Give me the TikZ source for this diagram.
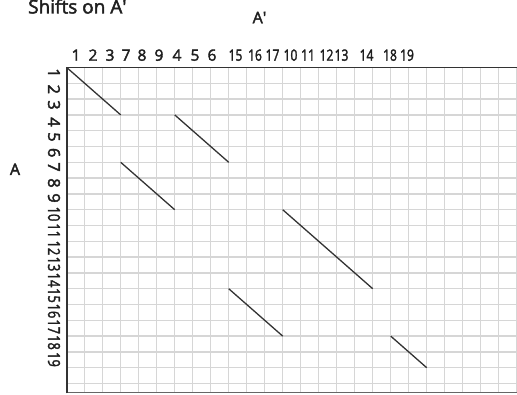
\documentclass[tikz,border=0pt]{standalone}
\usepackage{fontspec}
\setmainfont{Open Sans}
\newfontfamily\heavyfam{Open Sans}[FakeBold=2.4]
\newcommand\collblfont{\heavyfam\fontsize{15.5}{16}\selectfont}
\newcommand\rowlblfont{\heavyfam\fontsize{16.5}{17}\selectfont}
\newcommand\ttlfont{\heavyfam\fontsize{19}{20}\selectfont}
\newcommand\aprfont{\heavyfam\fontsize{16}{17}\selectfont}
\newcommand\nn[1]{\scalebox{0.78}[1]{#1}}
\begin{document}
\begin{tikzpicture}[x=1pt,y=-1pt,
  gridline/.style={draw=black!16,line width=1.5pt},
  borderline/.style={draw=black!80,line width=1.6pt},
  bottomline/.style={draw=black!60,line width=1.8pt},
  diag/.style={draw=black!80,line width=1.3pt},
  collbl/.style={font=\collblfont,anchor=base,inner sep=0pt,text=black!88},
  rowlbl/.style={font=\rowlblfont,rotate=-90,inner sep=0pt,text=black!88},
  ttl/.style={font=\ttlfont,inner sep=0pt,text=black!88}]
\useasboundingbox (0,0) rectangle (517,395);
\clip (0,0) rectangle (517,395);
% grid
\foreach \c in {1,...,25}
  \draw[gridline] ({66.7+18*\c},67.5) -- ({66.7+18*\c},392.5);
\foreach \r in {1,...,20}
  \draw[gridline] (66.7,{67.5+15.8*\r}) -- (517,{67.5+15.8*\r});
% borders
\draw[bottomline] (66.7,392.5) -- (517,392.5);
\draw[borderline] (66.7,393.3) -- (66.7,67.5) -- (517,67.5);
% grid points for diagonals
\foreach \c/\r/\n in {0/0/a1,3/3/a2,6/3/b1,9/6/b2,3/6/c1,6/9/c2,12/9/d1,17/14/d2,9/14/e1,12/17/e2,18/17/f1,20/19/f2}
  \coordinate (\n) at ({66.7+18*\c},{67.5+15.8*\r});
\draw[diag] (a1) -- (a2);
\draw[diag] (b1) -- (b2);
\draw[diag] (c1) -- (c2);
\draw[diag] (d1) -- (d2);
\draw[diag] (e1) -- (e2);
\draw[diag] (f1) -- (f2);
% column labels
\foreach \x/\t [count=\i] in {76/1,93/2,110/3,126/7,142/8,159/9,177/4,195/5,212/6,235.5/\nn{15},255/\nn{16},272.5/\nn{17},290.5/\nn{10},308/\nn{11},326.5/\nn{12},341.5/\nn{13},366.5/\nn{14},390/\nn{18},407/\nn{19}}
  \node[collbl] (col\i) at (\x,60.7) {\t};
% row labels
\foreach \y/\t [count=\i] in {73/1,89.3/2,105/3,122/4,137/5,152.7/6,167/7,183/8,198/9,214/\nn{10},230.7/\nn{11},248/\nn{12},264/\nn{13},280/\nn{14},295.5/\nn{15},311/\nn{16},326.7/\nn{17},342.5/\nn{18},359.5/\nn{19}}
  \node[rowlbl] (row\i) at (54,\y) {\t};
% titles
\node[ttl,anchor=base west] (title) at (28,13.5) {Shifts on A\textquotesingle};
\node[ttl,font=\aprfont,anchor=base] (aprime) at (259.5,23.3) {A\textquotesingle};
\node[ttl,font=\aprfont,anchor=base] (aleft) at (15,175) {A};
\end{tikzpicture}
\end{document}
